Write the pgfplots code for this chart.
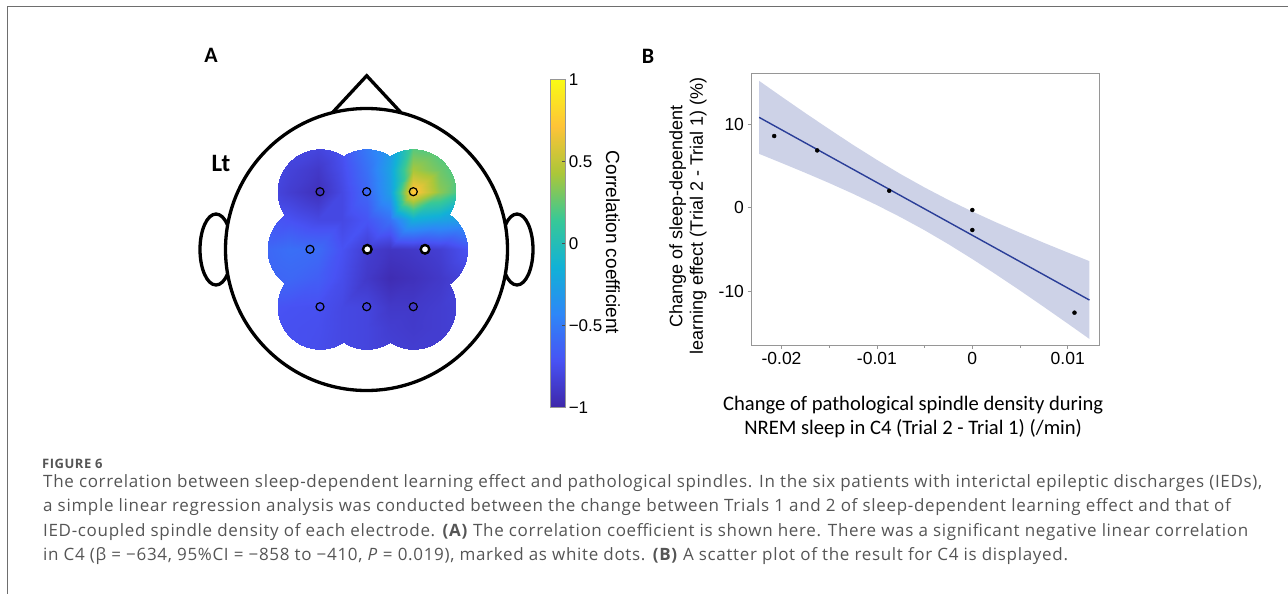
\documentclass[border=0pt]{standalone}
\usepackage{fontspec}
\setmainfont{Liberation Sans}
\newfontfamily\lib{Liberation Sans}
\newfontfamily\carl{Carlito}
\newfontfamily\osans[LetterSpace=4]{Open Sans}
\newfontfamily\osanscap[LetterSpace=4]{Open Sans}
\usepackage{pgfplots}
\pgfplotsset{compat=1.18}
\usepgfplotslibrary{fillbetween}
\definecolor{bandfill}{RGB}{205,210,231}
\definecolor{fitline}{RGB}{42,62,152}
\definecolor{capgray}{RGB}{85,85,85}
\definecolor{framegray}{RGB}{110,110,110}
\definecolor{axgray}{RGB}{150,150,150}
\pgfplotsset{colormap={parulanew}{rgb=(0.2422,0.1504,0.6603) rgb=(0.2810,0.3228,0.9579) rgb=(0.1786,0.5289,0.9682) rgb=(0.0689,0.6948,0.8394) rgb=(0.2161,0.7843,0.5923) rgb=(0.6720,0.7793,0.2227) rgb=(0.9970,0.7659,0.2199) rgb=(0.9769,0.9839,0.0805)}}

\pgfplotstableread{
x y c
266 148 -0.75
290 148 -0.78
318 148 -0.80
342 148 -0.72
367 148 -0.50
390 148 -0.30
413.3 148 0.22
440 148 0.18
468 148 0.10

266 170 -0.75
290 170 -0.82
318 170 -0.88
342 170 -0.75
367 170 -0.55
390 170 -0.25
413.3 170 0.42
440 170 0.28
468 170 0.12

266 191.7 -0.77
290 191.7 -0.85
318 191.7 -0.93
342 191.7 -0.78
367 191.7 -0.60
390 191.7 -0.28
413.3 191.7 0.75
440 191.7 0.35
468 191.7 0.08

266 220 -0.68
290 220 -0.72
318 220 -0.78
342 220 -0.78
367 220 -0.70
390 220 -0.55
413.3 220 -0.18
440 220 -0.25
468 220 -0.30

266 249.3 -0.60
290 249.3 -0.56
318 249.3 -0.58
342 249.3 -0.72
367 249.3 -0.85
390 249.3 -0.90
413.3 249.3 -0.88
440 249.3 -0.84
468 249.3 -0.72

266 278 -0.62
290 278 -0.60
318 278 -0.65
342 278 -0.75
367 278 -0.88
390 278 -0.96
413.3 278 -0.93
440 278 -0.88
468 278 -0.80

266 306.7 -0.70
290 306.7 -0.72
318 306.7 -0.73
342 306.7 -0.78
367 306.7 -0.80
390 306.7 -0.88
413.3 306.7 -0.88
440 306.7 -0.85
468 306.7 -0.82

266 328 -0.72
290 328 -0.73
318 328 -0.74
342 328 -0.78
367 328 -0.80
390 328 -0.85
413.3 328 -0.87
440 328 -0.85
468 328 -0.83

266 351 -0.72
290 351 -0.73
318 351 -0.75
342 351 -0.78
367 351 -0.80
390 351 -0.83
413.3 351 -0.85
440 351 -0.85
468 351 -0.83
}\topodata

\pgfplotstableread{
x up lo
-0.02235 15.16 6.44
-0.0200 13.28 5.35
-0.0175 11.31 4.17
-0.0150 9.39 2.95
-0.0125 7.51 1.67
-0.0100 5.72 0.31
-0.0075 4.01 -1.14
-0.0050 2.42 -2.69
-0.0025 0.93 -4.36
0.0000 -0.45 -6.13
0.0025 -1.75 -7.98
0.0050 -2.99 -9.89
0.0075 -4.19 -11.85
0.0100 -5.35 -13.84
0.01228 -6.38 -15.68
}\banddata

\begin{document}
\begin{tikzpicture}
\draw[framegray, line width=1pt] (7.5pt,-594pt) -- (7.5pt,-7pt) -- (1288pt,-7pt);

% ---------------- Panel A ----------------
\begin{axis}[at={(180pt,-420pt)}, anchor=south west, scale only axis,
  width=380pt, height=360pt, xmin=180, xmax=560, ymin=60, ymax=420,
  y dir=reverse, hide axis, clip=false,
  colormap name=parulanew, point meta min=-1, point meta max=1,
  colorbar,
  colorbar style={at={(parent axis.south west)}, anchor=south west,
    xshift=361.7pt, yshift=12.3pt, scale only axis, width=15pt, height=328.4pt,
    y dir=normal, ytick={-1,-0.5,0,0.5,1},
    yticklabels={−1,−0.5,0,0.5,1}, ytick pos=right,
    yticklabel style={font=\lib\fontsize{17}{17}\selectfont},
    tick align=inside, major tick length=3pt,
    axis line style={axgray, line width=0.6pt},
    ytick style={black!70, line width=0.6pt}}]
\draw[line width=3.3pt] (axis cs:216,249.5) ellipse [x radius=16pt, y radius=35.5pt];
\draw[line width=3.3pt] (axis cs:517,249.5) ellipse [x radius=16pt, y radius=35.5pt];
\draw[line width=3.3pt, line join=miter] (axis cs:333,112) -- (axis cs:366.7,75.7) -- (axis cs:400.4,112);
\draw[line width=3.3pt, fill=white] (axis cs:366.5,249.5) circle [radius=141pt];
\begin{scope}
\clip (axis cs:320,191.7) circle [radius=42.7pt]
      (axis cs:366.7,191.7) circle [radius=42.7pt]
      (axis cs:413.3,191.7) circle [radius=42.7pt]
      (axis cs:310,249.3) circle [radius=42.7pt]
      (axis cs:367.3,249.3) circle [radius=42.7pt]
      (axis cs:425,249.3) circle [radius=42.7pt]
      (axis cs:320,306.7) circle [radius=42.7pt]
      (axis cs:366.7,306.7) circle [radius=42.7pt]
      (axis cs:413.3,306.7) circle [radius=42.7pt];
\addplot[surf, shader=interp, mesh/cols=9, point meta=explicit] table[x=x, y=y, meta=c] {\topodata};
\end{scope}
\addplot[only marks, mark=o, mark size=4pt, mark options={line width=1.2pt, draw=black}]
  coordinates {(320,191.7) (366.7,191.7) (413.3,191.7) (310,249.3) (320,306.7) (366.7,306.7) (413.3,306.7)};
\addplot[only marks, mark=*, mark size=4.3pt, mark options={line width=2.4pt, draw=black, fill=white}]
  coordinates {(367.3,249.3) (425,249.3)};
\end{axis}
\node[font=\carl\bfseries\fontsize{22}{22}\selectfont] at (211pt,-55.5pt) {A};
\node[font=\carl\bfseries\fontsize{25}{25}\selectfont] at (221pt,-163pt) {Lt};
\node[rotate=-90, font=\lib\fontsize{19}{19}\selectfont] at (613pt,-242.5pt) {Correlation coefficient};

% ---------------- Panel B ----------------
\node[font=\carl\bfseries\fontsize{22}{22}\selectfont] at (648pt,-56pt) {B};
\begin{axis}[at={(751pt,-345pt)}, anchor=south west, scale only axis,
  width=348pt, height=272pt,
  xmin=-0.0232, xmax=0.01328, ymin=-16.4, ymax=16.1,
  scaled x ticks=false, scaled y ticks=false,
  xtick={-0.02,-0.01,0,0.01}, xticklabels={-0.02,-0.01,0,0.01},
  minor xtick={-0.015,-0.005,0.005},
  ytick={-10,0,10}, yticklabels={-10,0,10},
  tick pos=left, tick align=outside,
  major tick length=3.5pt, minor tick length=2.5pt,
  axis line style={axgray, line width=0.8pt},
  every tick/.style={axgray, line width=0.8pt},
  ticklabel style={font=\lib\fontsize{17.5}{17.5}\selectfont},
  xlabel={Change of pathological spindle density during\\NREM sleep in C4 (Trial 2 - Trial 1) (/min)},
  xlabel style={at={(axis description cs:0.466,-0.264)}, anchor=center, align=center,
    font=\carl\fontsize{20.6}{23.7}\selectfont},
  ylabel={Change of sleep-dependent\\learning effect (Trial 2 - Trial 1) (\%)},
  ylabel style={at={(axis description cs:-0.181,0.474)}, anchor=center, align=center,
    font=\lib\fontsize{18}{20.5}\selectfont},
  clip=false]
\addplot[name path=up, draw=none] table[x=x, y=up] {\banddata};
\addplot[name path=lo, draw=none] table[x=x, y=lo] {\banddata};
\addplot[bandfill, draw=none] fill between[of=up and lo];
\addplot[fitline, line width=1.4pt] coordinates {(-0.02235,10.80) (0.01228,-11.03)};
\addplot[only marks, mark=*, mark size=2pt, black]
  coordinates {(-0.02077,8.57) (-0.01626,6.85) (-0.00871,2.03) (0,-0.27) (0,-2.66) (0.01071,-12.54)};
\end{axis}

% ---------------- Caption ----------------
\node[anchor=base west, inner sep=0, text=capgray, font=\osanscap\bfseries\fontsize{13}{13}\selectfont] at (42pt,-468.3pt) {FIGURE 6};
\begin{scope}[every node/.style={anchor=base west, inner sep=0, text=capgray, font=\osans\fontsize{17}{17}\selectfont}]
\node at (43pt,-487pt) {The correlation between sleep-dependent learning effect and pathological spindles. In the six patients with interictal epileptic discharges (IEDs),};
\node at (43pt,-511.5pt) {a simple linear regression analysis was conducted between the change between Trials 1 and 2 of sleep-dependent learning effect and that of};
\node at (43pt,-536pt) {IED-coupled spindle density of each electrode. \textbf{(A)} The correlation coefficient is shown here. There was a significant negative linear correlation};
\node at (43pt,-560.5pt) {in C4 (β = −634, 95\%CI = −858 to −410, \textit{P} = 0.019), marked as white dots. \textbf{(B)} A scatter plot of the result for C4 is displayed.};
\end{scope}
\pgfresetboundingbox
\path[use as bounding box] (0,0) rectangle (1288pt,-594pt);
\end{tikzpicture}
\end{document}
